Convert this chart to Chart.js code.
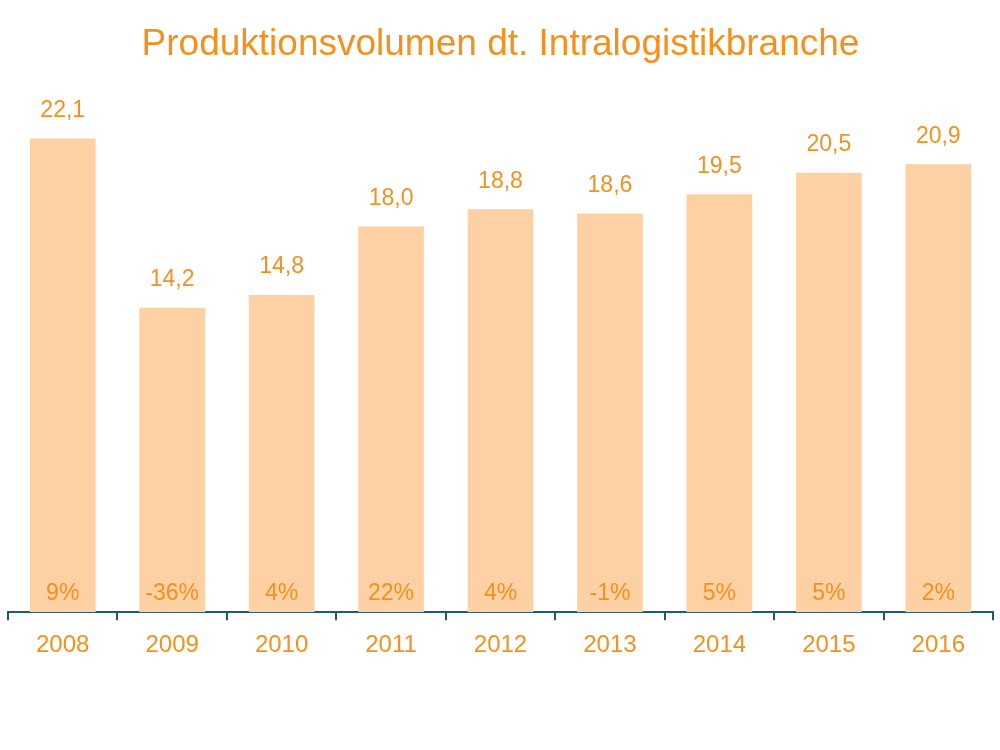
<!DOCTYPE html>
<html>
<head>
<meta charset="utf-8">
<script src="https://cdn.jsdelivr.net/npm/chart.js@4/dist/chart.umd.min.js"></script>
<style>
  html, body { margin: 0; padding: 0; background: #fff; }
  #wrap { width: 1000px; height: 750px; }
</style>
</head>
<body>
<div id="wrap"><canvas id="prodChart" width="1000" height="750"></canvas></div>
<script>
const years = ["2008", "2009", "2010", "2011", "2012", "2013", "2014", "2015", "2016"];
const volumes = [22.1, 14.2, 14.8, 18.0, 18.8, 18.6, 19.5, 20.5, 20.9];
const changes = ["9%", "-36%", "4%", "22%", "4%", "-1%", "5%", "5%", "2%"];

const orange = "#F5901C";
const barFill = "#FDD1A3";
const axisColor = "#1F5C6E";
const fontFamily = "'Liberation Sans', Arial, sans-serif";

// Werte über den Balken, Veränderung unten im Balken
const labelPlugin = {
  id: "barLabels",
  afterDatasetsDraw(chart) {
    const c = chart.ctx;
    const meta = chart.getDatasetMeta(0);
    c.save();
    c.fillStyle = orange;
    c.font = "23px " + fontFamily;
    c.textAlign = "center";
    c.textBaseline = "middle";
    meta.data.forEach((bar, i) => {
      c.fillText(volumes[i].toFixed(1).replace(".", ","), bar.x, bar.y - 28);
      c.fillText(changes[i], bar.x, chart.chartArea.bottom - 19);
    });
    c.restore();
  },
};

const ctx = document.getElementById("prodChart").getContext("2d");

new Chart(ctx, {
  type: "bar",
  data: {
    labels: years,
    datasets: [
      {
        data: volumes,
        backgroundColor: barFill,
        borderWidth: 0,
        barPercentage: 0.6,
        categoryPercentage: 1.0,
      },
    ],
  },
  options: {
    responsive: false,
    animation: false,
    layout: {
      padding: { left: 8, right: 7, top: 0, bottom: 79 },
    },
    plugins: {
      legend: { display: false },
      tooltip: { enabled: false },
      title: {
        display: true,
        text: "Produktionsvolumen dt. Intralogistikbranche",
        color: orange,
        font: { family: fontFamily, size: 37, weight: "normal" },
        padding: { top: 23, bottom: 9 },
      },
    },
    scales: {
      x: {
        grid: {
          display: true,
          drawOnChartArea: false,
          drawTicks: true,
          tickLength: 8,
          color: axisColor,
          lineWidth: 2,
          offset: true,
        },
        border: { display: true, color: axisColor, width: 2 },
        ticks: {
          color: orange,
          padding: 11,
          font: { family: fontFamily, size: 24 },
        },
      },
      y: {
        display: false,
        min: 0,
        max: 25,
      },
    },
  },
  plugins: [labelPlugin],
});
</script>
</body>
</html>
